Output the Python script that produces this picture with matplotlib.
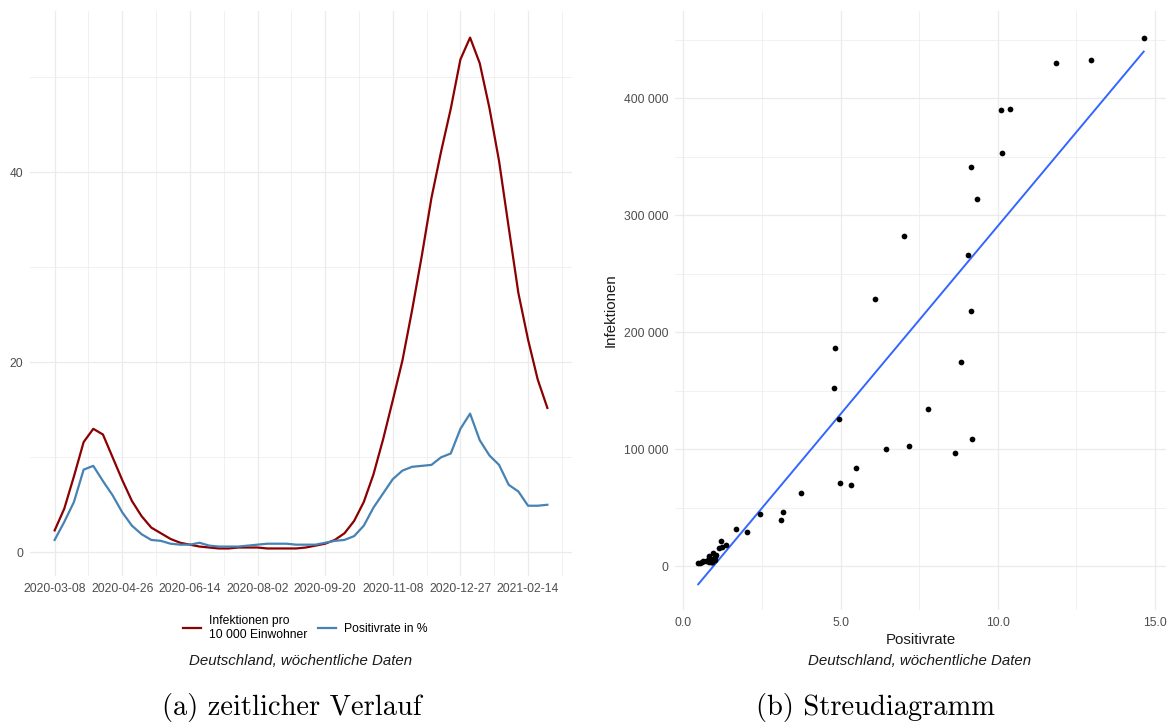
import matplotlib
matplotlib.use('Agg')
import matplotlib.pyplot as plt
import matplotlib.dates as mdates
from matplotlib.ticker import FuncFormatter, MultipleLocator
import numpy as np
import pandas as pd

# Wochenwerte Deutschland, ab 2020-03-08
weeks = pd.date_range('2020-03-08', periods=52, freq='7D')

infekt_pro_10k = [2.3, 4.6, 8.0, 11.6, 13.0, 12.4, 10.0, 7.6, 5.4, 3.8,
                  2.6, 2.0, 1.4, 1.0, 0.8, 0.6, 0.5, 0.4, 0.4, 0.5,
                  0.5, 0.5, 0.4, 0.4, 0.4, 0.4, 0.5, 0.7, 0.9, 1.3,
                  2.0, 3.3, 5.3, 8.2, 11.9, 16.0, 20.2, 25.5, 31.2, 37.3,
                  42.2, 46.7, 51.9, 54.2, 51.5, 46.8, 41.2, 34.2, 27.3, 22.4,
                  18.2, 15.2]
positivrate_ts = [1.3, 3.2, 5.3, 8.7, 9.1, 7.5, 6.0, 4.2, 2.8, 1.9,
                  1.3, 1.2, 0.9, 0.8, 0.8, 1.0, 0.7, 0.6, 0.6, 0.6,
                  0.7, 0.8, 0.9, 0.9, 0.9, 0.8, 0.8, 0.8, 1.0, 1.2,
                  1.3, 1.7, 2.8, 4.7, 6.2, 7.7, 8.6, 9.0, 9.1, 9.2,
                  10.0, 10.4, 13.0, 14.6, 11.8, 10.2, 9.2, 7.1, 6.4, 4.9,
                  4.9, 5.0]

# Streudiagramm: Positivrate vs. absolute Infektionen je Woche
positivrate = [1.36, 3.09, 5.33, 8.63, 9.18, 7.18, 5.49, 3.73, 3.18, 1.67,
               1.21, 1.12, 0.95, 0.80, 0.80, 1.00, 0.71, 0.60, 0.47, 0.54,
               0.62, 0.78, 0.88, 0.90, 0.92, 0.80, 0.82, 0.89, 1.00, 1.05,
               1.22, 2.03, 2.42, 4.97, 6.46, 7.78, 8.85, 9.15, 9.05, 9.33,
               10.14, 10.38, 12.97, 14.65, 11.86, 10.11, 9.15, 7.02, 6.09, 4.83,
               4.79, 4.96]
infektionen = [17900, 39600, 69700, 96900, 108300, 102800, 83800, 62500, 46200, 31400,
               21600, 15600, 11500, 8300, 6600, 5200, 4200, 3400, 2300, 2800,
               4300, 4300, 3600, 3300, 3300, 3500, 4100, 5700, 7500, 9400,
               16000, 29100, 44500, 70700, 100200, 134500, 174100, 218300, 265800, 314200,
               353500, 390500, 432400, 451000, 429800, 389500, 341400, 282200, 228150, 186250,
               151900, 125700]

W, H = 1176, 724
grid_col = '#EBEBEB'
tick_col = '#4D4D4D'
plt.rcParams['font.family'] = ['Liberation Sans', 'DejaVu Sans']

fig = plt.figure(figsize=(W / 100, H / 100), dpi=100)


def px_axes(x0, y0, x1, y1):
    return fig.add_axes([x0 / W, 1 - y1 / H, (x1 - x0) / W, (y1 - y0) / H])


def minimal(ax):
    for s in ax.spines.values():
        s.set_visible(False)
    ax.grid(which='major', color=grid_col, lw=0.9)
    ax.grid(which='minor', color=grid_col, lw=0.5)
    ax.set_axisbelow(True)
    ax.tick_params(which='both', length=0, labelsize=8.7, labelcolor=tick_col, pad=5)


# --- (a) zeitlicher Verlauf ---
ax1 = px_axes(30, 11, 572, 576)
minimal(ax1)
ax1.plot(weeks, infekt_pro_10k, color='#8B0000', lw=1.6, label='Infektionen pro\n10 000 Einwohner')
ax1.plot(weeks, positivrate_ts, color='#4682B4', lw=1.6, label='Positivrate in %')
span = (weeks[-1] - weeks[0]) * 0.05
ax1.set_xlim(weeks[0] - span, weeks[-1] + span)
ax1.set_ylim(-2.5, 57.0)
ax1.set_xticks(weeks[::7])
ax1.xaxis.set_major_formatter(mdates.DateFormatter('%Y-%m-%d'))
ax1.set_xticks([w + pd.Timedelta(days=24.5) for w in weeks[::7]], minor=True)
ax1.yaxis.set_major_locator(MultipleLocator(20))
ax1.yaxis.set_minor_locator(MultipleLocator(10))

fig.legend(*ax1.get_legend_handles_labels(), loc='center', ncol=2, frameon=False,
           bbox_to_anchor=(305 / W, 1 - 628 / H), fontsize=8.7,
           handlelength=1.5, handletextpad=0.65, columnspacing=0.9)
fig.text(301 / W, 1 - 661 / H, 'Deutschland, wöchentliche Daten', ha='center', va='center',
         fontsize=10.8, style='italic', color='#1A1A1A')

# --- (b) Streudiagramm ---
ax2 = px_axes(675, 11, 1166, 610)
minimal(ax2)
ax2.scatter(positivrate, infektionen, s=17, color='black', zorder=3, linewidths=0)
slope, icpt = np.polyfit(positivrate, infektionen, 1)
xs = np.array([min(positivrate), max(positivrate)])
ax2.plot(xs, icpt + slope * xs, color='#3366FF', lw=1.4, zorder=2)
ax2.set_xlim(-0.27, 15.36)
ax2.set_ylim(-37500, 474500)
ax2.xaxis.set_major_locator(MultipleLocator(5))
ax2.xaxis.set_minor_locator(MultipleLocator(2.5))
ax2.yaxis.set_major_locator(MultipleLocator(100000))
ax2.yaxis.set_minor_locator(MultipleLocator(50000))
ax2.xaxis.set_major_formatter(FuncFormatter(lambda v, p: f'{v:.1f}'))
ax2.yaxis.set_major_formatter(FuncFormatter(lambda v, p: f'{v:,.0f}'.replace(',', ' ')))
ax2.set_xlabel('Positivrate', fontsize=10.8, color='#1A1A1A', labelpad=3)
ax2.set_ylabel('Infektionen', fontsize=10.8, color='#1A1A1A', labelpad=4)
fig.text(920 / W, 1 - 661 / H, 'Deutschland, wöchentliche Daten', ha='center', va='center',
         fontsize=10.8, style='italic', color='#1A1A1A')

# Unterschriften der Teilabbildungen
fig.text(292 / W, 1 - 708 / H, '(a) zeitlicher Verlauf', ha='center', va='center',
         fontsize=20.5, family='cmr10')
fig.text(875 / W, 1 - 708 / H, '(b) Streudiagramm', ha='center', va='center',
         fontsize=20.5, family='cmr10')

fig.savefig('out.png', dpi=100)
